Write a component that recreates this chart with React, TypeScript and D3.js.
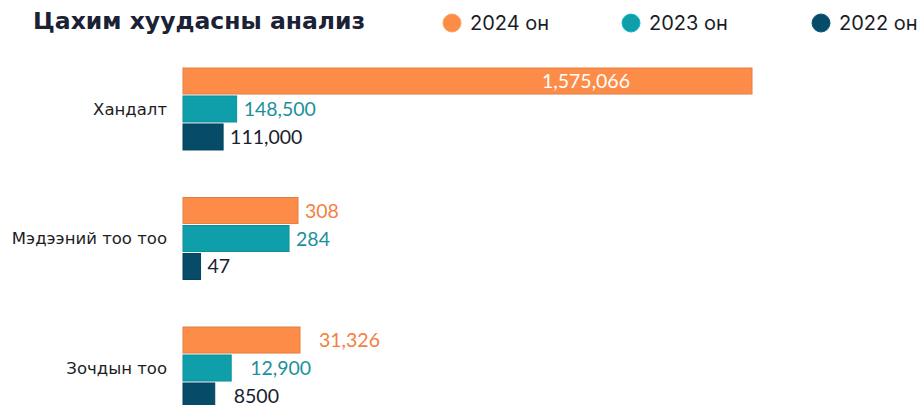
import React, { useEffect, useRef } from "react";
import * as d3 from "d3";

// chart data
const categories = ["Хандалт", "Мэдээний тоо тоо", "Зочдын тоо"];
const seriesNames = ["2024 он", "2023 он", "2022 он"];
const values2024 = [1575066, 308, 31326];
const values2023 = [148500, 284, 12900];
const values2022 = [111000, 47, 8500];
const labels2024 = ["1,575,066", "308", "31,326"];
const labels2023 = ["148,500", "284", "12,900"];
const labels2022 = ["111,000", "47", "8500"];
// each category is drawn on its own axis
const axisMax = [1575066, 1524, 152350];

const colors = ["#fd8c48", "#0f9fab", "#064b68"];
const labelColors = ["#f2813d", "#1c8f9d", "#17212d"];
const labelGap = [7, 7, 19];

const App = () => {
  const ref = useRef<SVGSVGElement>(null);

  useEffect(() => {
    const svg = d3.select(ref.current);
    svg.selectAll("*").remove();

    const width = 922;
    const height = 405;
    const left = 183;
    const barWidth = 569;

    svg.attr("width", width).attr("height", height);

    // title
    svg
      .append("text")
      .attr("x", 33)
      .attr("y", 29)
      .style("font-family", "DejaVu Sans")
      .style("font-weight", 700)
      .style("font-size", "23.5px")
      .style("fill", "#1b2236")
      .text("Цахим хуудасны анализ");

    // legend
    const legendX = [452, 631, 821];
    const legend = svg
      .selectAll(".legend")
      .data(seriesNames)
      .enter()
      .append("g")
      .attr("class", "legend")
      .attr("transform", (d, i) => `translate(${legendX[i]},23)`);

    legend
      .append("circle")
      .attr("r", 9)
      .style("fill", (d, i) => colors[i])
      .style("stroke", (d, i) => d3.color(colors[i])!.brighter(0.4).toString())
      .style("stroke-width", 1);

    legend
      .append("text")
      .attr("x", 18)
      .attr("dy", "0.35em")
      .style("font-family", "Inter")
      .style("font-size", "20px")
      .style("fill", "#1a1d28")
      .text((d) => d);

    const y0 = d3.scaleBand().domain(categories).range([68, 409]).paddingInner(0.367).paddingOuter(0);
    const y1 = d3.scaleBand().domain(seriesNames).range([0, y0.bandwidth()]).paddingInner(0.07);

    const allValues = [values2024, values2023, values2022];
    const allLabels = [labels2024, labels2023, labels2022];

    categories.forEach((cat, ci) => {
      const x = d3.scaleLinear().domain([0, axisMax[ci]]).range([left, left + barWidth]);
      const g = svg.append("g").attr("transform", `translate(0,${y0(cat)})`);

      g.append("text")
        .attr("x", 167)
        .attr("y", y0.bandwidth() / 2)
        .attr("dy", "0.35em")
        .style("text-anchor", "end")
        .style("font-family", "DejaVu Sans")
        .style("font-size", "16.5px")
        .style("fill", "#1d1d24")
        .text(cat);

      seriesNames.forEach((s, si) => {
        const v = allValues[si][ci];
        const xEnd = x(v);
        g.append("rect")
          .attr("x", left)
          .attr("y", y1(s)!)
          .attr("width", xEnd - left)
          .attr("height", y1.bandwidth())
          .style("fill", colors[si])
          .style("stroke", d3.color(colors[si])!.darker(0.3).toString())
          .style("stroke-width", 1);

        const inside = xEnd > left + 400;
        g.append("text")
          .attr("x", inside ? xEnd - 122 : xEnd + labelGap[ci])
          .attr("y", y1(s)! + y1.bandwidth() / 2)
          .attr("dy", "0.36em")
          .style("text-anchor", inside ? "end" : "start")
          .style("font-family", "Lato")
          .style("font-size", "19.5px")
          .style("fill", inside ? "#ffffff" : labelColors[si])
          .text(allLabels[si][ci]);
      });
    });
  }, []);

  return <svg ref={ref} style={{ position: "absolute", left: 0, top: 0 }}></svg>;
};

export default App;
